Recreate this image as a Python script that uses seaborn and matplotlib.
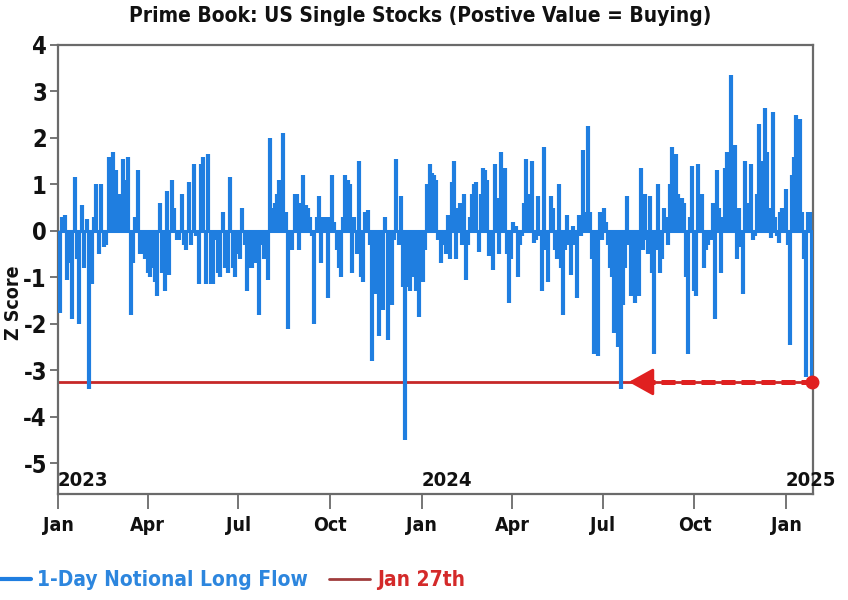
import matplotlib
matplotlib.use("Agg")
import matplotlib.pyplot as plt
from matplotlib import font_manager as fm
from matplotlib.lines import Line2D
import seaborn as sns
import pandas as pd
import numpy as np

# ---------------- data ----------------
# Z-score of 1-day notional long flow, sampled roughly every other trading day
seg_2023_h1 = [-1.76, 0.3, 0.35, -1.05, -0.7, -1.9, 1.15, -0.6, -2.0, 0.55, -0.8, 0.25,
               -3.4, -1.15, 0.3, 1.0, -0.5, 1.0, -0.35, -0.3, 1.6, 1.55, 1.7, 1.3, 0.8,
               0.8, 1.55, 1.1, 1.6, -1.8, -0.7, 0.3, 1.3, -0.5, -0.5, -0.6, -0.9, -1.0,
               -0.8, -1.1, -1.4, 0.6, -0.9, -1.3, 0.85, -0.95, 1.1, 0.5, -0.2, -0.2, 0.8,
               -0.3, -0.4, 1.05, -0.3, 1.45, -0.1, -1.15, 1.45, 1.6, -1.15, 1.65, -1.15,
               -1.15, -0.2, -0.9, -1.0, 0.4, -0.8, -0.9, 1.15, -0.8, -1.0, -0.5, -0.6,
               0.5, -0.3, -1.3]
seg_2023_h2 = [-0.8, -0.8, -0.7, -0.5, -1.8, -0.3, -0.6, -0.2, -1.05, 2.0, 0.5, 0.6, 0.8,
               1.1, 0.3, 2.1, 0.4, -2.1, -0.3, -0.4, 0.8, 0.8, -0.4, 0.6, 1.2, 0.55, 0.5,
               0.3, -0.1, -2.0, 0.3, 0.75, -0.7, 0.3, 0.3, -1.45, 0.3, 1.2, 0.2, -0.4,
               -0.8, -1.0, 0.3, 1.2, 1.1, 1.0, -0.9, 0.3, -0.5, 1.5, -1.0, -1.1, 0.4,
               0.45, -0.3, -2.8, -0.6, -1.35, -2.25, -0.6, -1.7, 0.3, -2.35, -1.3, -1.6,
               -0.2, 1.55, -0.3, 0.75, -1.2, -4.5, -1.2, -1.3, -1.0, -0.6, -1.3, -1.85,
               -1.0, -1.1, -0.4, 1.0, 1.45, 1.25, 1.2, 1.1, -0.2]
seg_2024_h1 = [-0.7, -0.3, -0.5, 0.35, -0.6, 1.05, 1.5, -0.6, 0.5, 0.6, -0.3, 0.8, -1.05,
               -0.3, 0.3, 0.8, 1.0, 1.05, -0.45, 0.8, 1.35, 1.3, 1.1, -0.55, -0.3, -0.85,
               1.45, 0.7, -0.5, 1.7, 0.8, 1.35, -0.5, -1.55, -0.6, 0.2, 0.1, -1.0, -0.3,
               -0.1, 0.6, 1.55, 0.8, 0.8, 1.5, -0.25, -0.2, 0.75, -0.1, -1.3, 1.8, -0.4,
               -1.1, 0.75, 0.5, -0.4, -0.6, 1.0, -0.8, -1.8, -0.4, 0.35, -0.3, -0.95,
               0.1, -0.3, -1.45, 0.35, -0.1, 1.75, 0.4, 2.25, 0.4, -0.6, -2.65, -1.5,
               -2.7, 0.4, -0.2, 0.5, 0.2, -0.3, -0.8, -1.0, -2.2, -0.9, -2.5, -3.4,
               -1.6, -0.8, 0.75, -0.3]
seg_2024_h2 = [-1.4, -0.4, -1.55, -0.2, -1.4, 1.35, -0.4, 0.8, -0.2, -0.5, 0.75, -0.9,
               -2.65, -0.4, 1.0, -0.9, -0.6, 0.5, 0.3, -0.3, 1.0, 1.8, 1.2, 1.65, 0.8,
               0.5, 0.7, 0.6, -1.0, -2.65, 0.3, 1.4, -1.3, -1.4, 1.45, 0.8, 0.8, -0.8,
               -0.4, -0.3, -0.2, -0.2, 0.6, -1.9, 1.3, 0.5, -0.9, 0.3, 1.35, 1.7, 0.5,
               3.35, 1.4, 1.85, -0.6, 0.5, -0.35, -1.35, 1.5, 0.4, 0.6, 1.45, -0.2,
               -0.1, 0.8, 2.3, 1.5, 0.6, 2.65, 1.7, 0.5, -0.15, 2.55, 0.3, -0.1, -0.25,
               0.4, 0.5, 0.5, 0.9, -0.3, -2.45, 1.2, 1.6, 2.5, 2.4, 2.4, 0.4, -0.6,
               -3.15, 0.4, 0.4, -3.25]
segment_spans = [("2023-01-03", "2023-07-10"), ("2023-07-13", "2024-01-18"),
                 ("2024-01-21", "2024-07-27"), ("2024-07-29", "2025-01-27")]
segments = [seg_2023_h1, seg_2023_h2, seg_2024_h1, seg_2024_h2]

month_ticks = ["2023-01-01", "2023-04-01", "2023-07-01", "2023-10-01", "2024-01-01",
               "2024-04-01", "2024-07-01", "2024-10-01", "2025-01-01"]
month_labels = ["Jan", "Apr", "Jul", "Oct", "Jan", "Apr", "Jul", "Oct", "Jan"]
year_labels = ["2023", "2024", "2025"]
y_ticks = [-5, -4, -3, -2, -1, 0, 1, 2, 3, 4]
arrow_tip_date = "2024-07-27"
series_label = "1-Day Notional Long Flow"
ref_label = "Jan 27th"
title = "Prime Book: US Single Stocks (Postive Value = Buying)"

# build table
dates = pd.DatetimeIndex(np.concatenate([
    pd.date_range(a, b, periods=len(s)).values for (a, b), s in zip(segment_spans, segments)]))
values = np.concatenate([np.asarray(s, float) for s in segments])
df = pd.DataFrame({"date": dates, "z": values})

# ---------------- style ----------------
sns.set_theme(style="white")
names = {f.name for f in fm.fontManager.ttflist}
if "Liberation Sans Narrow" in names:
    FONT, STRETCH = "Liberation Sans Narrow", "normal"
else:
    FONT, STRETCH = "DejaVu Sans", "condensed"
plt.rcParams["font.family"] = [FONT, "DejaVu Sans"]
plt.rcParams["font.weight"] = "bold"
plt.rcParams["axes.labelweight"] = "bold"
plt.rcParams["font.stretch"] = STRETCH

BLUE = "#1f7ee0"
RED_LINE = "#c62828"
RED_ARROW = "#e02020"
SPINE = "#6a6a6a"

fig = plt.figure(figsize=(8.48, 6.0), dpi=100)
ax = fig.add_axes([58 / 848, 1 - 494 / 600, (813 - 58) / 848, (494 - 45) / 600])

# bars from zero
ax.vlines(df["date"], 0, df["z"], color=BLUE, lw=3.0, zorder=3)
sns.lineplot(x=[df["date"].iloc[0], df["date"].iloc[-1]], y=[0, 0], ax=ax,
             color=BLUE, lw=2.2, zorder=3)

# reference line at the latest value
last_date = df["date"].iloc[-1]
last_val = df["z"].iloc[-1]
tip = pd.Timestamp(arrow_tip_date)
ax.axhline(last_val, color=RED_LINE, lw=2.0, zorder=2)
# dashed shaft
ax.plot([tip + pd.Timedelta(days=12), last_date], [last_val, last_val],
        color=RED_ARROW, lw=3.6, ls=(0, (2.8, 1.2)), zorder=5, solid_capstyle="butt")
# arrow head
ax.annotate("", xy=(tip, last_val), xytext=(tip + pd.Timedelta(days=18), last_val),
            arrowprops=dict(arrowstyle="-|>,head_length=0.9,head_width=0.5",
                            color=RED_ARROW, lw=2.0, shrinkA=0, shrinkB=0,
                            mutation_scale=17),
            zorder=5)
ax.plot([last_date], [last_val], "o", ms=9, color=RED_ARROW, zorder=6, clip_on=False)

# axes
ax.set_xlim(pd.Timestamp("2023-01-01"), pd.Timestamp("2025-01-28"))
ax.set_ylim(-5.66, 4)
ax.set_yticks(y_ticks)
ax.set_yticklabels([str(t) for t in y_ticks])
ax.set_xticks(pd.to_datetime(month_ticks))
ax.set_xticklabels(month_labels)
ax.tick_params(axis="x", length=11, width=1.3, color=SPINE, pad=5, labelsize=14,
               labelcolor="#111111", bottom=True)
ax.tick_params(axis="y", length=6, width=1.3, color=SPINE, pad=2, labelsize=17,
               labelcolor="#111111", left=True)
for s in ax.spines.values():
    s.set_visible(True)
    s.set_color(SPINE)
    s.set_linewidth(1.6)
ax.set_xlabel("")
ax.set_ylabel("Z Score", fontsize=14, color="#111111", fontweight="bold")
ax.yaxis.set_label_coords(-0.047, 0.425)

for yl in year_labels:
    ax.text(pd.Timestamp(f"{yl}-01-01"), -5.37, yl, ha="left", va="center",
            fontsize=14.5, color="#111111", clip_on=False, zorder=7)

fig.text(0.495, 0.974, title, ha="center", va="center", fontsize=15, color="#111111")

handles = [Line2D([], [], color=BLUE, lw=3), Line2D([], [], color="#a03c3c", lw=2)]
fig.legend(handles, [series_label, ref_label], loc="center left",
           bbox_to_anchor=(-0.035, 0.033), ncol=2, frameon=False, fontsize=15,
           handlelength=2.0, columnspacing=1.0, handletextpad=0.3,
           labelcolor=["#2d86de", "#d42a2a"])

fig.savefig("out.png", dpi=100)
